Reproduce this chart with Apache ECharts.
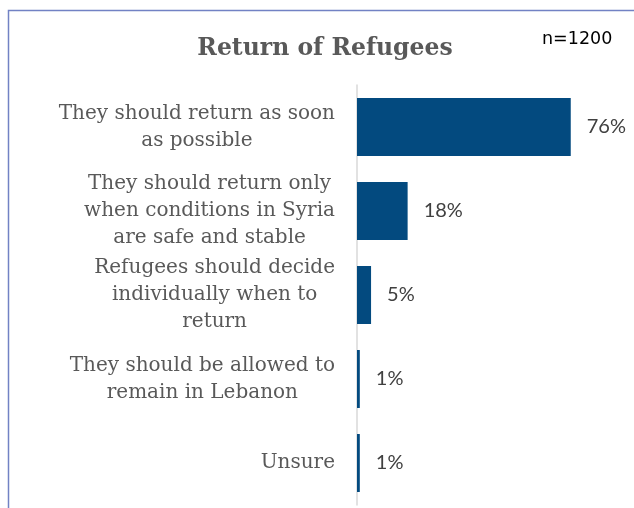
<!DOCTYPE html>
<html>
<head>
<meta charset="utf-8">
<script src="https://cdn.jsdelivr.net/npm/echarts@6/dist/echarts.min.js"></script>
<style>
  html, body { margin: 0; padding: 0; background: #ffffff; }
  #chart { width: 634px; height: 508px; }
</style>
</head>
<body>
<div id="chart"></div>
<script>
// Survey answers, top to bottom
const categories = [
  'They should return as soon\nas possible',
  'They should return only\nwhen conditions in Syria\nare safe and stable',
  'Refugees should decide\nindividually when to\nreturn',
  'They should be allowed to\nremain in Lebanon',
  'Unsure'
];
const shares = [76, 18, 5, 1, 1];
const titleText = 'Return of Refugees';
const sampleText = 'n=1200';

const chart = echarts.init(document.getElementById('chart'), null, { renderer: 'canvas' });

// Each wrapped category line is centred within its own label block
const centreLines = (v) => v.split('\n').map((l) => '{c|' + l + '}').join('\n');

chart.setOption({
  animation: false,
  backgroundColor: '#ffffff',
  title: {
    text: titleText,
    left: 320,
    top: 32,
    textAlign: 'center',
    textStyle: {
      fontFamily: 'DejaVu Serif',
      fontWeight: 'bold',
      fontSize: 23.5,
      color: '#595959'
    }
  },
  graphic: [
    {
      type: 'rect',
      shape: { x: 8.5, y: 10.5, width: 700, height: 600 },
      style: { fill: 'none', stroke: '#7282c4', lineWidth: 1.5 },
      silent: true
    },
    {
      type: 'text',
      left: 542,
      top: 30,
      style: {
        text: sampleText,
        fontFamily: 'DejaVu Sans',
        fontSize: 17.5,
        fill: '#000000'
      }
    }
  ],
  grid: {
    left: 357,
    top: 85,
    width: 225,
    height: 420,
    outerBoundsMode: 'none'
  },
  xAxis: {
    type: 'value',
    min: 0,
    max: 80,
    show: false
  },
  yAxis: {
    type: 'category',
    data: categories,
    inverse: true,
    axisLine: { show: true, lineStyle: { color: '#d9d9d9', width: 1.5 } },
    axisTick: { show: false },
    axisLabel: {
      margin: 22,
      align: 'right',
      formatter: centreLines,
      rich: {
        c: {
          align: 'center',
          fontFamily: 'DejaVu Serif',
          fontSize: 20,
          lineHeight: 27,
          color: '#595959'
        }
      }
    }
  },
  series: [
    {
      type: 'bar',
      data: shares,
      barCategoryGap: '31%',
      itemStyle: { color: '#034a7f' },
      label: {
        show: true,
        position: 'right',
        distance: 16,
        formatter: '{c}%',
        fontFamily: 'Lato',
        fontSize: 20,
        color: '#404040'
      }
    }
  ]
});
</script>
</body>
</html>
